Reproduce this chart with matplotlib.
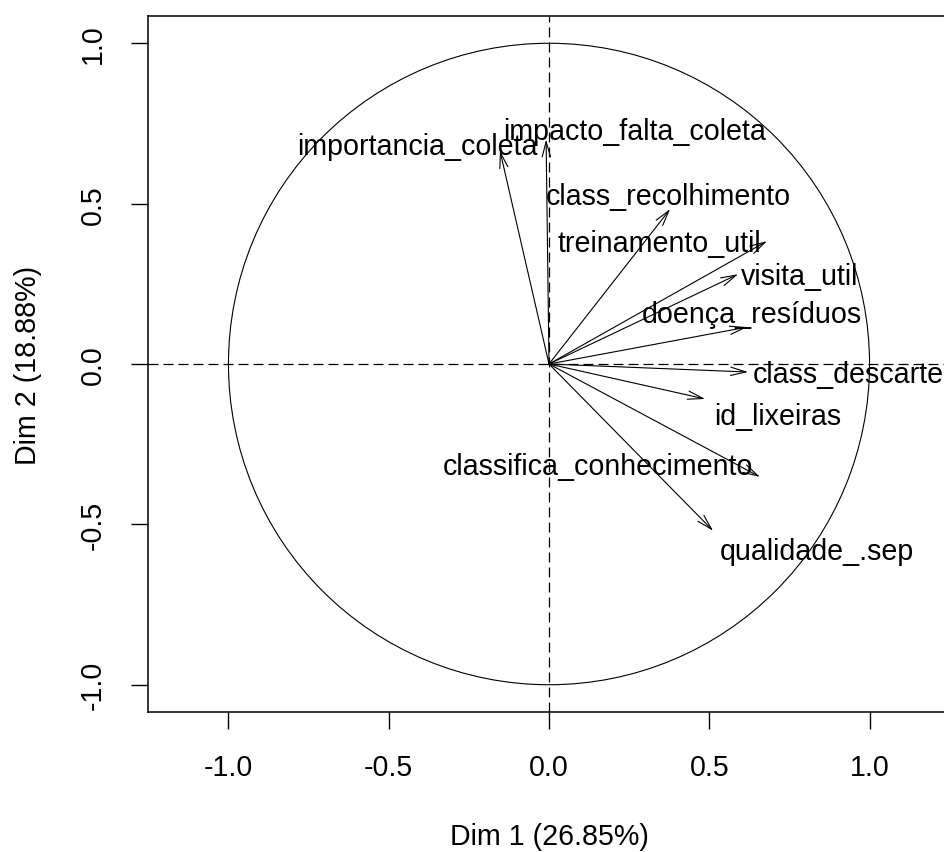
import numpy as np
import matplotlib
matplotlib.use("Agg")
import matplotlib.pyplot as plt
from matplotlib.patches import Circle

plt.rcParams['font.family'] = ['Liberation Sans', 'DejaVu Sans']

# ---- data (PCA variable coordinates) ----
variables = ["importancia_coleta", "impacto_falta_coleta", "class_recolhimento",
             "treinamento_util", "visita_util", "doença_resíduos", "class_descarte",
             "id_lixeiras", "classifica_conhecimento", "qualidade_.sep"]
dim1 = [-0.153, -0.009, 0.378, 0.680, 0.590, 0.618, 0.621, 0.487, 0.658, 0.512]
dim2 = [0.665, 0.700, 0.483, 0.383, 0.280, 0.115, -0.025, -0.109, -0.352, -0.520]

# label placement (centre x, baseline y), data units
label_x = [-0.410, 0.268, 0.372, 0.346, 0.783, 0.633, 0.933, 0.713, 0.153, 0.835]
label_y = [0.654, 0.701, 0.498, 0.352, 0.249, 0.131, -0.056, -0.187, -0.343, -0.607]

xlabel = "Dim 1 (26.85%)"
ylabel = "Dim 2 (18.88%)"
ticks = [-1.0, -0.5, 0.0, 0.5, 1.0]
tick_labels = ["-1.0", "-0.5", "0.0", "0.5", "1.0"]

W, H = 944, 853
fig = plt.figure(figsize=(W / 100, H / 100), dpi=100)
left, right, top, bottom = 148, 950, 17, 713
ax = fig.add_axes([left / W, 1 - bottom / H, (right - left) / W, (bottom - top) / H])
ax.set_xlim(-1.251, 1.251)
ax.set_ylim(-1.085, 1.085)

fs = 20.6
for s in ax.spines.values():
    s.set_linewidth(1.1)
    s.set_color("black")

ax.add_patch(Circle((0, 0), 1.0, fill=False, lw=0.8, color="black"))
ax.axhline(0, color="black", lw=0.9, ls=(0, (8, 4)))
ax.axvline(0, color="black", lw=0.9, ls=(0, (8, 4)))

for x, y in zip(dim1, dim2):
    ax.annotate("", xy=(x, y), xytext=(0, 0),
                arrowprops=dict(arrowstyle="->,head_length=1.1,head_width=0.3",
                                mutation_scale=10, lw=0.8, color="black",
                                shrinkA=0, shrinkB=0))

for name, lx, ly in zip(variables, label_x, label_y):
    ax.text(lx, ly, name, ha="center", va="baseline", fontsize=fs, color="black")

ax.set_xticks(ticks)
ax.set_xticklabels(tick_labels)
ax.set_yticks(ticks)
ax.set_yticklabels(tick_labels)
ax.tick_params(axis="both", direction="out", length=12.5, width=1.0, labelsize=fs, pad=17)
for lab in ax.get_yticklabels():
    lab.set_rotation(90)
    lab.set_va("center")
    lab.set_ha("right")

ax.set_xlabel(xlabel, fontsize=fs)
ax.set_ylabel(ylabel, fontsize=fs)
ax.xaxis.set_label_coords(0.5, (bottom - 837) / (bottom - top))
ax.xaxis.label.set_va("center")
ax.yaxis.set_label_coords((28 - left) / (right - left), 0.5)
ax.yaxis.label.set_va("center")

fig.savefig("out.png", dpi=100)
